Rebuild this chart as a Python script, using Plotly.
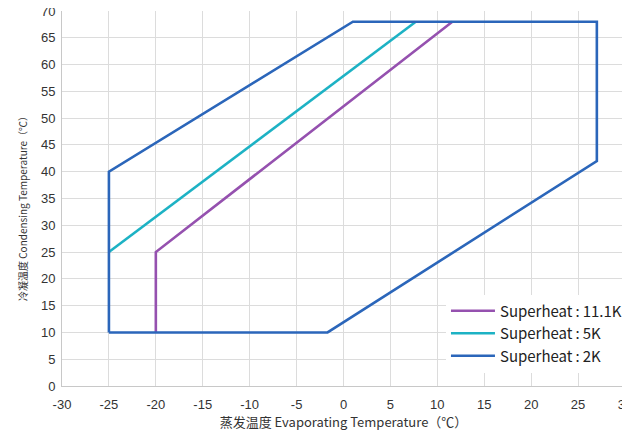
import plotly.graph_objects as go

# Data (evaporating temp, condensing temp) envelope points
sh111_x = [-20, -20, 11.6]
sh111_y = [10, 25, 68]
sh5_x = [-25, 7.7]
sh5_y = [25, 68]
sh2_x = [-25, -25, 1.0, 27, 27, -1.7, -25]
sh2_y = [10, 40, 68, 68, 42, 10, 10]

names = ["Superheat\u2009:\u200911.1K", "Superheat\u2009:\u20095K", "Superheat\u2009:\u20092K"]
colors = ["#9551AF", "#1DB2C4", "#2B66BA"]

x_ticks = list(range(-30, 31, 5))
x_labels = [str(v) for v in x_ticks]
y_ticks = list(range(0, 71, 5))
y_labels = [str(v) for v in y_ticks]

fig = go.Figure()
for xs, ys, nm, c in zip([sh111_x, sh5_x, sh2_x], [sh111_y, sh5_y, sh2_y], names, colors):
    fig.add_trace(go.Scatter(x=xs, y=ys, mode="lines", name=nm,
                             line=dict(color=c, width=2.6)))

fig.add_annotation(text="冷凝温度 Condensing Temperature（℃）", textangle=-90,
                   xref="paper", yref="paper", x=-0.071, y=0.48,
                   xanchor="center", yanchor="middle", showarrow=False,
                   font=dict(size=10, family="Noto Sans CJK SC, sans-serif", color="#333"))

fig.update_layout(
    width=630, height=437,
    margin=dict(l=54, r=13, t=3, b=59, autoexpand=False),
    paper_bgcolor="white", plot_bgcolor="white",
    font=dict(family="Liberation Sans, Arial, sans-serif", color="#333333", size=13),
    legend=dict(x=0.682, y=0.244, xanchor="left", yanchor="top",
                bgcolor="white", font=dict(size=15, family="Noto Sans CJK SC, Noto Sans, sans-serif", color="#222"),
                tracegroupgap=0, itemwidth=44),
    xaxis=dict(range=[-30, 30], tickvals=x_ticks, ticktext=x_labels, showgrid=True, gridcolor="#DCDCDC",
               zeroline=False, showline=True, linecolor="#C8C8C8", ticks="", automargin=False,
               ticklabeloverflow="allow", ticklabelstandoff=6,
               tickfont=dict(size=13, color="#333"),
               title=dict(text="蒸发温度 Evaporating Temperature（℃）",
                          font=dict(size=13, family="Noto Sans CJK SC, sans-serif", color="#333"), standoff=6)),
    yaxis=dict(range=[0, 70], tickvals=y_ticks, ticktext=y_labels, showgrid=True, gridcolor="#DCDCDC",
               zeroline=False, showline=True, linecolor="#C8C8C8", ticks="", automargin=False,
               ticklabeloverflow="allow", ticklabelstandoff=3,
               tickfont=dict(size=13, color="#333")),
)

fig.write_html("out.html")
